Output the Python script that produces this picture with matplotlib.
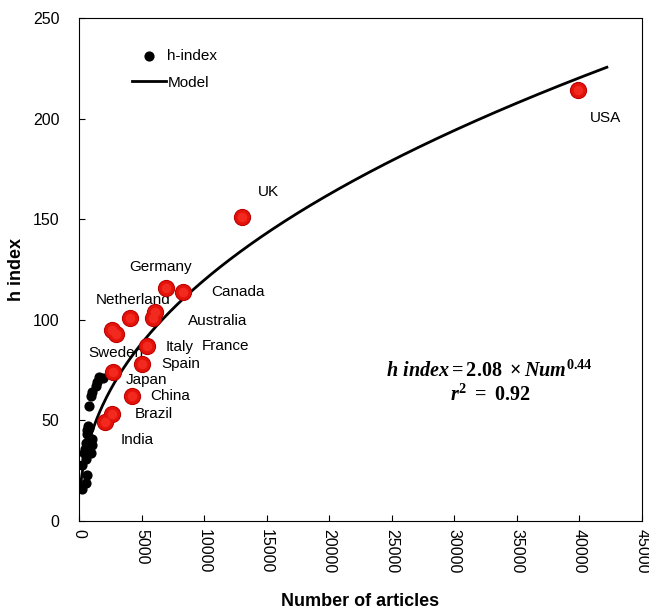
import numpy as np
import matplotlib.pyplot as plt

plt.rcParams['font.family'] = ['Liberation Sans', 'DejaVu Sans']
plt.rcParams['mathtext.fontset'] = 'custom'
plt.rcParams['mathtext.rm'] = 'Liberation Serif:bold'
plt.rcParams['mathtext.it'] = 'Liberation Serif:italic:bold'
plt.rcParams['mathtext.bf'] = 'Liberation Serif:bold'

# countries highlighted in red
countries = ['USA', 'UK', 'Germany', 'Canada', 'Netherland', 'Australia', 'France',
             'Sweden', 'Italy', 'Spain', 'Japan', 'China', 'Brazil', 'India']
country_articles = [39900, 13000, 6950, 8350, 4100, 6100, 5900,
                    2650, 5400, 5000, 2750, 4200, 2650, 2100]
country_h = [214, 151, 116, 114, 101, 104, 101,
             95, 87, 78, 74, 62, 53, 49]
extra_articles = [2950]
extra_h = [93]

# remaining countries (black dots)
other_articles = [1600, 1950, 1460, 1330, 1060, 980, 800, 720, 610, 800, 670, 1060,
                  530, 1060, 400, 930, 530, 270, 670, 530, 270, 450, 800]
other_h = [71.7, 71, 69, 67, 64, 62, 57, 47, 45, 46, 43, 41,
           39, 38, 34, 34, 31, 28, 23, 19, 16, 36, 40]

coef, expo = 2.08, 0.44

# label offsets in points
offsets = {'USA': (20, -20), 'UK': (19, 18), 'Germany': (-4, 15), 'Canada': (39, 0),
           'Netherland': (2, 13), 'Australia': (45, -7), 'France': (52, -20),
           'Sweden': (3, -17), 'Italy': (24, -1), 'Spain': (28, 0), 'Japan': (24, -6),
           'China': (28, 0), 'Brazil': (30, 0), 'India': (23, -13)}

fig = plt.figure(figsize=(6.49, 6.11), dpi=100)
ax = fig.add_axes([0.1217, 0.1473, 0.8673, 0.8232])

num = np.linspace(100, 42200, 400)
model_line, = ax.plot(num, coef * num ** expo, color='black', lw=2, zorder=2, label='Model')

dots = ax.scatter(other_articles, other_h, s=40, color='black', zorder=3, label='h-index')

xs = country_articles + extra_articles
ys = country_h + extra_h
ax.scatter(xs, ys, s=130, color='#b80000', zorder=4)
ax.scatter(xs, ys, s=100, color='#e3120b', zorder=5)
ax.scatter(xs, ys, s=35, color='#f2291f', zorder=6)

for c, x, y in zip(countries, country_articles, country_h):
    ax.annotate(c, (x, y), xytext=offsets[c], textcoords='offset points',
                ha='center', va='center', fontsize=11)

ax.text(0.73, 0.276, r'$h\ index = 2.08\ \times Num^{0.44}$' + '\n' + r'$r^2\ =\ 0.92$',
        transform=ax.transAxes, ha='center', va='center', fontsize=14.5,
        linespacing=1.2)

ax.set_xlim(0, 45000)
ax.set_ylim(0, 250)
ax.set_xticks(np.arange(0, 45001, 5000))
ax.set_yticks(np.arange(0, 251, 50))
ax.tick_params(direction='in', length=4, labelsize=11.5)
ax.tick_params(axis='x', labelrotation=-90, pad=6)
ax.tick_params(axis='y', pad=14)

ax.set_xlabel('Number of articles', fontsize=13, fontweight='bold', labelpad=14)
ax.set_ylabel('h index', fontsize=13, fontweight='bold', labelpad=6)

ax.legend(handles=[dots, model_line], loc='upper left', bbox_to_anchor=(0.07, 0.965),
          frameon=False, fontsize=11, handlelength=2.2, handletextpad=0.1,
          labelspacing=0.8)

fig.savefig('out.png', dpi=100)
